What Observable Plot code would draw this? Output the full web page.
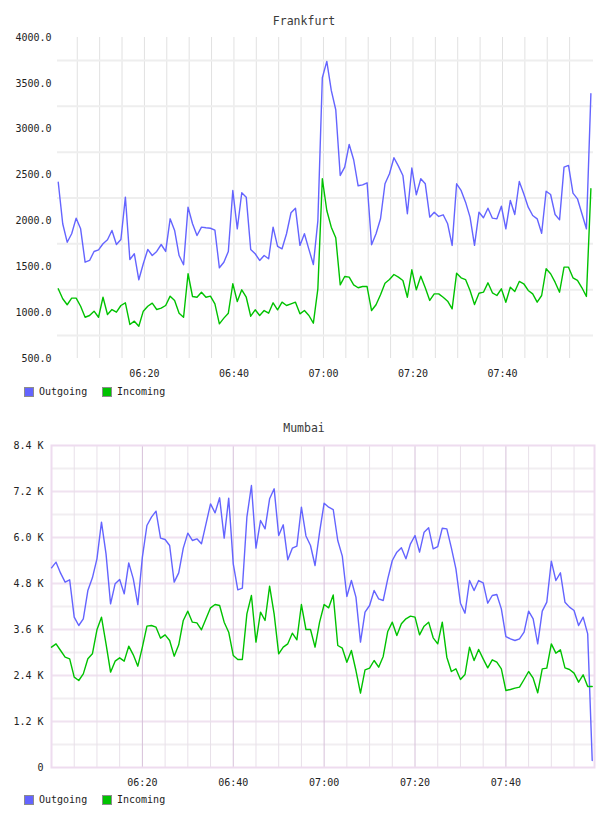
<!DOCTYPE html>
<html>
<head>
<meta charset="utf-8">
<script src="https://cdn.jsdelivr.net/npm/d3@7"></script>
<script src="https://cdn.jsdelivr.net/npm/@observablehq/plot@0.6"></script>
<style>
  body { margin: 0; background: #fff; }
  #page { position: relative; width: 608px; height: 816px; font-family: "DejaVu Sans Mono", monospace; color: #222; }
  .title { position: absolute; left: 0; width: 608px; text-align: center; font-size: 11.5px; line-height: 14px; color: #3a3a3a; }
  .chart { position: absolute; left: 0; }
  .item { position: absolute; font-size: 10px; line-height: 12px; color: #222; white-space: nowrap; }
  .sw { position: absolute; width: 8px; height: 8px; border: 1px solid #8c8c8c; }
</style>
</head>
<body>
<div id="page"></div>
<script>
// Series names and colours
const seriesNames = ["Outgoing", "Incoming"];
const seriesColors = ["#6464ff", "#00c200"];

// Time axis labels and sampling (one sample per minute)
const timeTickLabels = ["06:20", "06:40", "07:00", "07:20", "07:40"];
const frankfurtFirstSample = "06:00:45";
const mumbaiFirstSample = "06:00:00";

// Frankfurt traffic
const frankfurtOutgoing = [
  2422,1969,1768,1860,2030,1914,1550,1569,1667,1685,
  1751,1794,1896,1743,1798,2259,1580,1642,1358,1533,
  1689,1623,1667,1743,1667,2023,1896,1623,1522,2150,
  1969,1841,1932,1925,1920,1900,1489,1550,1667,2332,
  1914,2307,2259,1689,1642,1569,1623,1587,1932,1722,
  1696,1860,2089,2139,1733,1860,1690,1525,2000,3561,
  3740,3423,3212,2496,2586,2834,2667,2383,2393,2416,
  1740,1860,2023,2405,2514,2689,2597,2496,2078,2577,
  2285,2460,2405,2041,2095,2049,2067,1969,1733,2405,
  2332,2205,2041,1733,2095,2034,2139,2030,2023,2160,
  1914,2223,2070,2430,2296,2150,2059,2023,1866,2324,
  2288,2070,2012,2586,2605,2303,2241,2078,1914,3387
];
const frankfurtIncoming = [
  1260,1151,1086,1158,1158,1070,950,969,1016,950,
  1168,980,1034,1005,1078,1107,871,907,852,1016,
  1070,1103,1034,1049,1078,1180,1133,994,950,1424,
  1176,1168,1223,1168,1180,1096,878,940,994,1315,
  1122,1249,1168,961,1031,969,1023,994,1107,1031,
  1114,1078,1096,1114,987,1023,969,885,1260,2460,
  2114,1932,1816,1303,1394,1387,1303,1271,1285,1285,
  1023,1086,1195,1321,1361,1416,1387,1351,1168,1467,
  1249,1397,1271,1133,1205,1205,1168,1125,1042,1430,
  1380,1361,1242,1089,1212,1223,1325,1216,1187,1260,
  1114,1278,1231,1340,1315,1242,1205,1114,1187,1478,
  1424,1332,1223,1496,1496,1380,1351,1271,1176,2351
];
const frankfurtYTicks = [500, 1000, 1500, 2000, 2500, 3000, 3500, 4000];
const frankfurtYGrid = [750, 1250, 1750, 2250, 2750, 3250, 3750];

// Mumbai traffic
const mumbaiOutgoing = [
  5209,5357,5070,4835,4896,3922,3704,3878,4617,4948,
  5443,6400,5574,4270,4791,4904,4530,5339,4922,4250,
  5487,6313,6530,6687,5983,5948,5791,4835,5078,5722,
  6113,5922,5965,5835,6357,6878,6643,7035,5983,7026,
  5313,4635,4678,6530,7357,5722,6443,6226,7009,7270,
  6052,6330,5417,5722,5774,6791,6040,5791,5270,6139,
  6896,6791,6730,5922,5513,4461,4878,4443,3270,4052,
  4226,4617,4400,4357,4922,5400,5617,5730,5443,5835,
  6052,5617,6139,6252,5704,5765,6243,6226,5730,5183,
  4287,4026,4878,4617,4878,4817,4287,4487,4513,4139,
  3417,3357,3313,3357,3530,4078,3878,3226,4078,4313,
  5383,4878,5078,4313,4183,4096,3704,3922,3487,183
];
const mumbaiIncoming = [
  3139,3226,3052,2878,2835,2357,2270,2443,2835,2965,
  3591,3922,3226,2487,2774,2861,2774,3165,2939,2643,
  3139,3687,3704,3661,3374,3461,3313,2904,3200,3835,
  4078,3791,3774,3591,3878,4165,4252,4226,3791,3530,
  2922,2817,2817,4009,4487,3270,4052,3835,4730,4000,
  2965,3139,3226,3504,3330,4252,3600,3600,3139,3791,
  4252,4165,4500,3183,3113,2748,3052,2530,1939,2548,
  2591,2791,2617,2896,3548,3791,3443,3748,3878,3948,
  3922,3461,3687,3791,3383,3226,3791,2878,2504,2574,
  2296,2426,3139,2791,3078,2835,2600,2809,2748,2574,
  2009,2035,2070,2096,2296,2504,2330,1948,2574,2591,
  3226,2983,3070,2600,2557,2461,2226,2417,2113,2113
];
const mumbaiYTicks = [0, 1200, 2400, 3600, 4800, 6000, 7200, 8400];
const mumbaiYMinor = [600, 1800, 3000, 4200, 5400, 6600, 7800];

// ---- helpers ----
const at = s => new Date(`2000-01-01T${s}${s.length === 5 ? ":00" : ""}Z`);
const fmtTime = d3.utcFormat("%H:%M");

function series(first, values, name) {
  const t0 = at(first).getTime();
  return values.map((v, i) => ({ time: new Date(t0 + i * 60000), value: v, series: name }));
}

const page = document.getElementById("page");

function addTitle(text, top) {
  const d = document.createElement("div");
  d.className = "title";
  d.style.top = top + "px";
  d.textContent = text;
  page.appendChild(d);
}

function addLegend(top) {
  const xs = [24, 102];
  seriesNames.forEach((name, i) => {
    const sw = document.createElement("div");
    sw.className = "sw";
    sw.style.left = xs[i] + "px";
    sw.style.top = (top - 5) + "px";
    sw.style.background = seriesColors[i];
    page.appendChild(sw);
    const lab = document.createElement("div");
    lab.className = "item";
    lab.style.left = (xs[i] + 15) + "px";
    lab.style.top = (top - 6) + "px";
    lab.textContent = name;
    page.appendChild(lab);
  });
}

function addChart(svg, top) {
  svg.classList.add("chart");
  svg.style.top = top + "px";
  page.appendChild(svg);
}

const baseStyle = { fontFamily: "DejaVu Sans Mono", fontSize: "10px", color: "#222", background: "transparent", overflow: "visible" };
const color = { domain: seriesNames, range: seriesColors };

// ---- Frankfurt ----
const fraData = [
  ...series(frankfurtFirstSample, frankfurtOutgoing, "Outgoing"),
  ...series(frankfurtFirstSample, frankfurtIncoming, "Incoming")
];
const fraDomain = [at("06:00:35"), at("08:00:20")];
const fraVGrid = d3.utcMinute.every(5).range(at("06:05"), at("08:00"));

addTitle("Frankfurt", 14);
addChart(Plot.plot({
  width: 608, height: 385,
  marginLeft: 57, marginRight: 15, marginTop: 37, marginBottom: 27,
  style: baseStyle,
  x: { type: "utc", domain: fraDomain, label: null },
  y: { domain: [500, 4000], label: null },
  color,
  marks: [
    Plot.ruleX(fraVGrid, { stroke: "#e1e1e1", strokeWidth: 1 }),
    Plot.ruleY(frankfurtYGrid, { stroke: "#eeeeee", strokeWidth: 2 }),
    Plot.axisX(timeTickLabels.map(at), { tickSize: 0, tickPadding: 11, tickFormat: fmtTime, fill: "#222" }),
    Plot.axisY(frankfurtYTicks, { tickSize: 0, tickPadding: 6, tickFormat: d => d.toFixed(1), fill: "#222" }),
    Plot.line(fraData, { x: "time", y: "value", z: "series", stroke: "series", strokeWidth: 1.4 })
  ]
}), 0);
addLegend(392);

// ---- Mumbai ----
const mumData = [
  ...series(mumbaiFirstSample, mumbaiOutgoing, "Outgoing"),
  ...series(mumbaiFirstSample, mumbaiIncoming, "Incoming")
];
const mumDomain = [at("06:00"), at("07:59:30")];
const mumFive = d3.utcMinute.every(5).range(at("06:05"), at("08:00"));
const mumMajor = mumFive.filter(d => d.getUTCMinutes() % 20 === 0);
const mumMinor = mumFive.filter(d => d.getUTCMinutes() % 20 !== 0);

addTitle("Mumbai", 421);
addChart(Plot.plot({
  width: 608, height: 385,
  marginLeft: 51, marginRight: 14, marginTop: 37, marginBottom: 26,
  style: baseStyle,
  x: { type: "utc", domain: mumDomain, label: null },
  y: { domain: [0, 8400], label: null },
  color,
  marks: [
    Plot.ruleY(mumbaiYMinor, { stroke: "#f1eef1", strokeWidth: 2 }),
    Plot.ruleY(mumbaiYTicks.filter(d => d > 0 && d < 8400), { stroke: "#f0e2f0", strokeWidth: 2 }),
    Plot.ruleX(mumMinor, { stroke: "#e8e0e9", strokeWidth: 1 }),
    Plot.ruleX(mumMajor, { stroke: "#d6c0d9", strokeWidth: 1 }),
    Plot.frame({ stroke: "#eedcef", strokeWidth: 2 }),
    Plot.axisX(timeTickLabels.map(at), { tickSize: 0, tickPadding: 11, tickFormat: fmtTime, fill: "#222" }),
    Plot.axisY(mumbaiYTicks, { tickSize: 0, tickPadding: 8, tickFormat: d => d === 0 ? "0" : (d / 1000).toFixed(1) + " K", fill: "#222" }),
    Plot.line(mumData, { x: "time", y: "value", z: "series", stroke: "series", strokeWidth: 1.4 })
  ]
}), 408);
addLegend(800);
</script>
</body>
</html>
